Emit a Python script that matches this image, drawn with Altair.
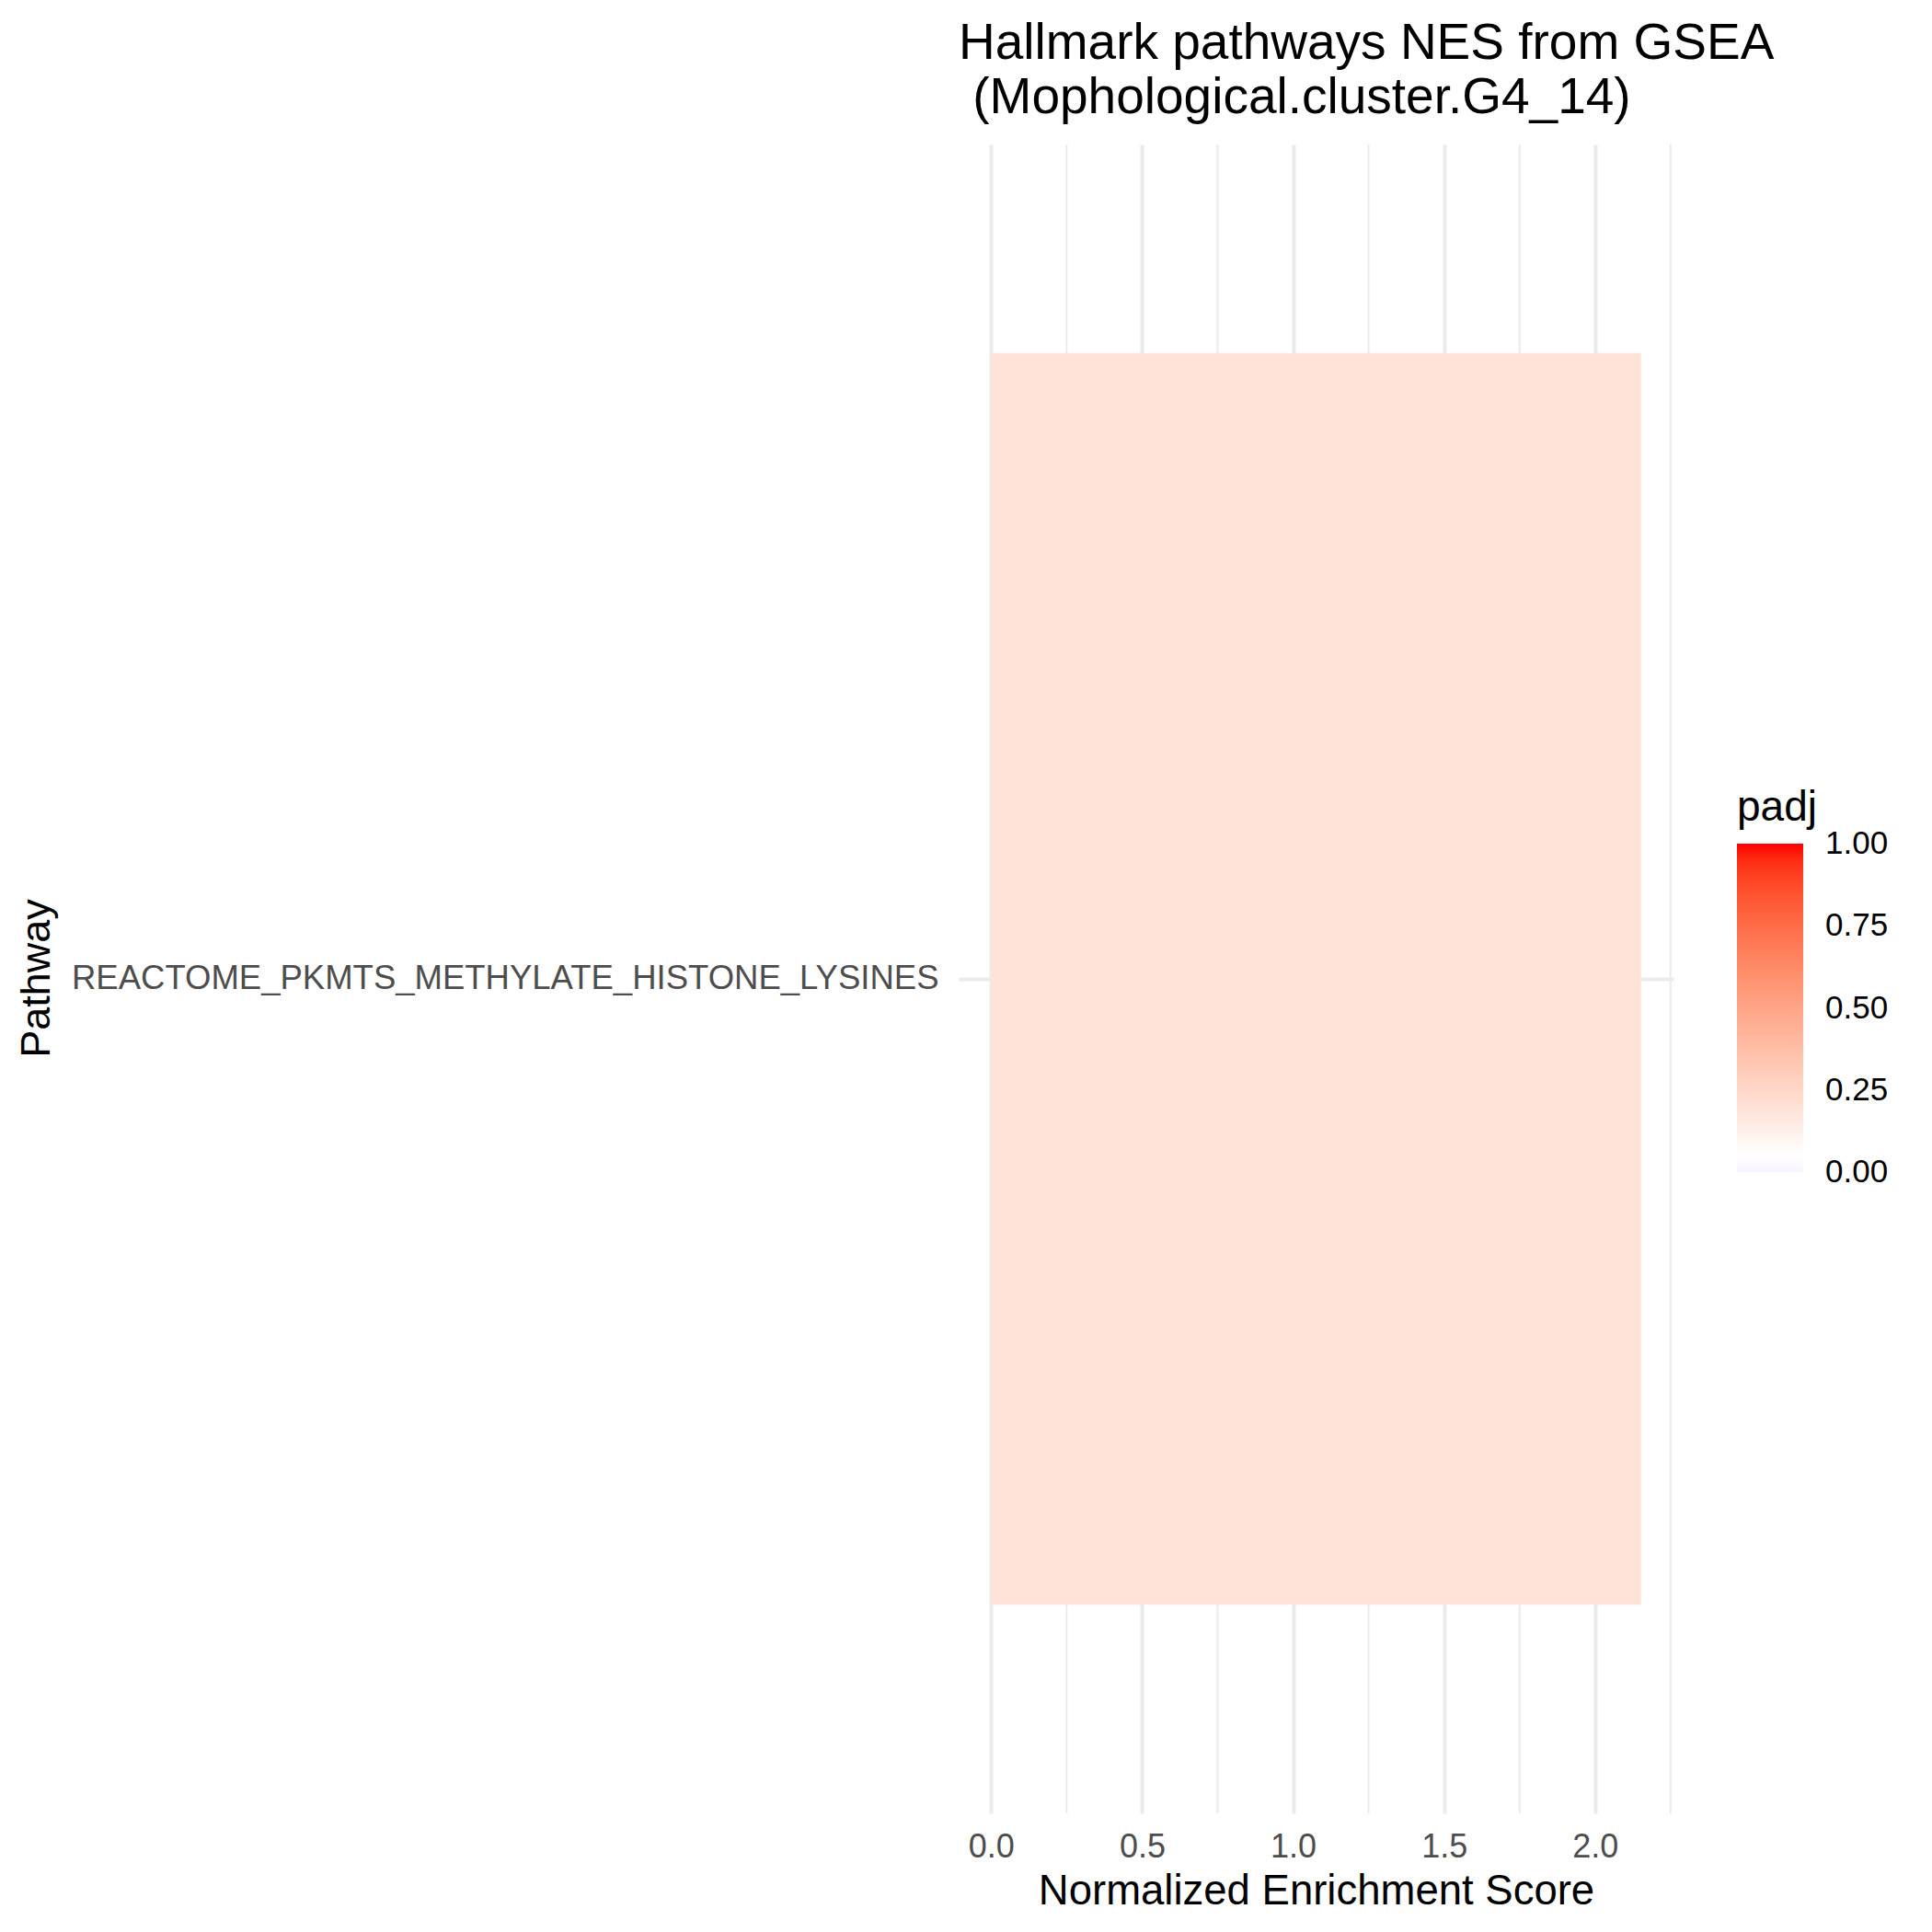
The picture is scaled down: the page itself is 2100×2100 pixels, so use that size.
import altair as alt
import pandas as pd

# ---- data ----
pathways = ["REACTOME_PKMTS_METHYLATE_HISTONE_LYSINES"]
nes_values = [2.152]
padj_values = [0.19]
major_breaks = [0.0, 0.5, 1.0, 1.5, 2.0]
minor_breaks = [0.25, 0.75, 1.25, 1.75, 2.25]
legend_breaks = [0.0, 0.25, 0.5, 0.75, 1.0]
padj_limits = [0.0, 1.0]
padj_midpoint = 0.05
fill_colors = ["#F8F3FF", "#FFFFFF", "#FF0000"]

df = pd.DataFrame({"pathway": pathways, "NES": nes_values, "padj": padj_values})
minor_df = pd.DataFrame({"brk": minor_breaks})

# ggplot-like 5% expansion of the continuous axis
lo_raw = min(0.0, min(nes_values))
hi_raw = max(0.0, max(nes_values))
span = hi_raw - lo_raw
x_domain = [lo_raw - 0.05 * span, hi_raw + 0.05 * span]

# tiny widening so the end labels of the colourbar stay centred on their value
eps = 1e-4
fill_domain = [padj_limits[0] - eps, padj_midpoint, padj_limits[1] + eps]

FONT = "Liberation Sans"
GRID = "#EBEBEB"

x_scale = alt.Scale(domain=x_domain, nice=False, zero=False)

x_axis = alt.Axis(
    title="Normalized Enrichment Score",
    values=major_breaks,
    format=".1f",
    labelFont=FONT,
    labelFontSize=36,
    labelColor="#4D4D4D",
    labelPadding=19,
    labelFlush=False,
    ticks=False,
    domain=False,
    grid=True,
    gridColor=GRID,
    gridWidth=4,
    titleFont=FONT,
    titleFontSize=45.5,
    titleFontWeight="normal",
    titleColor="black",
    titleBaseline="alphabetic",
    titleY=98,
)

y_axis = alt.Axis(
    title="Pathway",
    labelFont=FONT,
    labelFontSize=36.5,
    labelColor="#4D4D4D",
    labelLimit=3000,
    labelPadding=22,
    ticks=False,
    domain=False,
    grid=True,
    gridColor=GRID,
    gridWidth=4,
    bandPosition=0.5,
    titleFont=FONT,
    titleFontSize=45,
    titleFontWeight="normal",
    titleColor="black",
    titleAngle=270,
    titleAlign="center",
    titleBaseline="alphabetic",
    titleX=-989,
    titleY=906,
)

minor = alt.Chart(minor_df).mark_rule(color=GRID, strokeWidth=2).encode(
    x=alt.X("brk:Q", scale=x_scale, axis=x_axis),
)

bars = alt.Chart(df).mark_bar(strokeWidth=0).encode(
    x=alt.X("NES:Q", scale=x_scale, axis=x_axis),
    x2=alt.datum(0),
    y=alt.Y(
        "pathway:N",
        scale=alt.Scale(paddingInner=0, paddingOuter=1 / 6),
        axis=y_axis,
    ),
    fill=alt.Fill(
        "padj:Q",
        scale=alt.Scale(
            domain=fill_domain,
            range=fill_colors,
            interpolate="lab",
        ),
        legend=alt.Legend(
            title="padj",
            orient="none",
            legendX=846,
            legendY=699,
            direction="vertical",
            gradientLength=357,
            gradientThickness=72,
            gradientStrokeWidth=0,
            values=legend_breaks,
            format=".2f",
            labelFont=FONT,
            labelFontSize=35,
            labelColor="black",
            labelOffset=24,
            labelBaseline="middle",
            labelOverlap=False,
            titleFont=FONT,
            titleFontSize=46,
            titleFontWeight="normal",
            titleColor="black",
            titlePadding=15,
        ),
    ),
)

chart = (
    alt.layer(minor, bars)
    .properties(
        width=777,
        height=1814,
        autosize=alt.AutoSizeParams(type="none"),
        padding={"left": 1042, "top": 157, "right": 281, "bottom": 129},
        background="white",
        title=alt.TitleParams(
            text=[
                "Hallmark pathways NES from GSEA",
                "\u200b\u00a0(Mophological.cluster.G4_14)",
            ],
            anchor="start",
            frame="group",
            font=FONT,
            fontSize=55,
            fontWeight="normal",
            color="black",
            lineHeight=59,
            baseline="alphabetic",
            offset=35,
            dy=57,
        ),
    )
    .configure_view(stroke=None)
)

chart.save("out.html", embed_options={"renderer": "svg", "actions": False})
